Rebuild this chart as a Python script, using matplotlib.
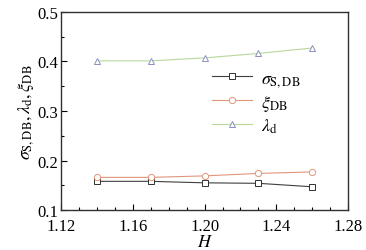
import numpy as np
import matplotlib
matplotlib.use("Agg")
import matplotlib.pyplot as plt
from matplotlib.ticker import MultipleLocator

plt.rcParams['font.family'] = ['Liberation Serif', 'DejaVu Serif']
plt.rcParams['mathtext.fontset'] = 'stix'

# data
H = [1.14, 1.17, 1.20, 1.23, 1.26]
sigma_sdb = [0.158, 0.158, 0.155, 0.154, 0.147]
xi_db = [0.166, 0.166, 0.169, 0.174, 0.177]
lambda_d = [0.401, 0.401, 0.407, 0.416, 0.427]


def main():
    fig = plt.figure(figsize=(3.66, 2.51), dpi=100)
    ax = fig.add_axes([0.167, 0.159, 0.784, 0.790])

    ax.plot(H, sigma_sdb, color='#404040', lw=0.8, marker='s', ms=4.5,
            mfc='white', mec='#303030', mew=0.7, label=r'$\sigma_{\rm S,DB}$')
    ax.plot(H, xi_db, color='#e0967a', lw=0.8, marker='o', ms=4.5,
            mfc='white', mec='#e0967a', mew=0.7, label=r'$\xi_{\rm DB}$')
    ax.plot(H, lambda_d, color='#b8d89a', lw=0.8, marker='^', ms=5,
            mfc='white', mec='#8a8fc0', mew=0.7, label=r'$\lambda_{\rm d}$')

    ax.set_xlim(1.12, 1.28)
    ax.set_ylim(0.1, 0.5)
    ax.xaxis.set_major_locator(MultipleLocator(0.04))
    ax.xaxis.set_minor_locator(MultipleLocator(0.01))
    ax.yaxis.set_major_locator(MultipleLocator(0.1))
    ax.yaxis.set_minor_locator(MultipleLocator(0.05))
    ax.set_xticklabels([f'{v:.2f}' for v in ax.get_xticks()])
    ax.set_yticklabels([f'{v:.1f}' for v in ax.get_yticks()])
    ax.tick_params(which='both', direction='in', top=False, right=False,
                   labelsize=12, width=0.8)
    ax.tick_params(axis='x', pad=6)
    ax.tick_params(axis='y', pad=2)
    ax.tick_params(which='major', length=4)
    ax.tick_params(which='minor', length=2.5)
    for sp in ax.spines.values():
        sp.set_linewidth(1.0)
        sp.set_color('#303030')

    ax.set_xlabel(r'$H$', fontsize=13, labelpad=-1)
    ax.set_ylabel(r'$\sigma_{\rm S,DB}, \lambda_{\rm d}, \xi_{\rm DB}$', fontsize=13, labelpad=1)

    ax.legend(loc='upper left', bbox_to_anchor=(0.47, 0.79), frameon=False,
              fontsize=13, handlelength=2.2, handletextpad=0.5, labelspacing=0.2)

    fig.savefig('out.png', dpi=100)


if __name__ == '__main__':
    main()
